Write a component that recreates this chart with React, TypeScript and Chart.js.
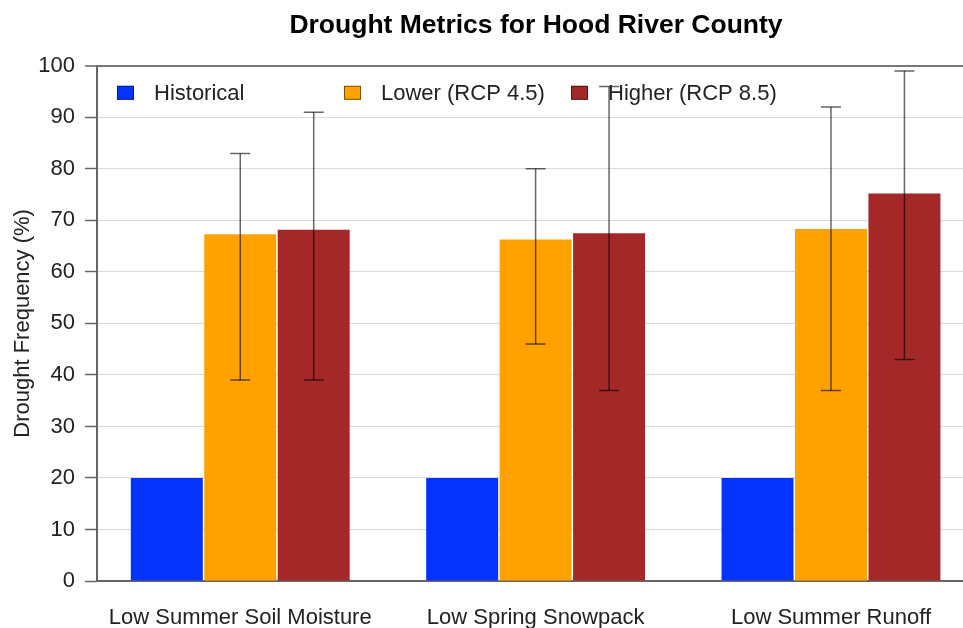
import React, { useEffect, useRef } from 'react';
import { Chart, registerables } from 'chart.js';

Chart.register(...registerables);

const FONT = "'Liberation Sans', Arial, Helvetica, sans-serif";

const chartTitle = 'Drought Metrics for Hood River County';
const yAxisTitle = 'Drought Frequency (%)';
const categories = ['Low Summer Soil Moisture', 'Low Spring Snowpack', 'Low Summer Runoff'];
const seriesLabels = ['Historical', 'Lower (RCP 4.5)', 'Higher (RCP 8.5)'];
const seriesColors = ['#0433ff', '#ffa200', '#a52828'];

const historical = [20, 20, 20];
const lower = [67.3, 66.3, 68.3];
const higher = [68.2, 67.5, 75.2];

const lowerErrLow = [39, 46, 37];
const lowerErrHigh = [83, 80, 92];
const higherErrLow = [39, 37, 43];
const higherErrHigh = [91, 96, 99];

const yMin = 0;
const yMax = 100;
const yStep = 10;

export default function App() {
  const ref = useRef<HTMLCanvasElement>(null);

  useEffect(() => {
    const canvas = ref.current;
    if (!canvas) return;

    const errorBars = {
      id: 'errorBars',
      afterDatasetsDraw(chart: any) {
        const { ctx } = chart;
        const y = chart.scales.y;
        chart.data.datasets.forEach((ds: any, di: number) => {
          if (!ds.errLow) return;
          const meta = chart.getDatasetMeta(di);
          meta.data.forEach((el: any, i: number) => {
            const x = el.x;
            const yl = y.getPixelForValue(ds.errLow[i]);
            const yh = y.getPixelForValue(ds.errHigh[i]);
            ctx.save();
            ctx.strokeStyle = 'rgba(0,0,0,0.6)';
            ctx.lineWidth = 1.5;
            ctx.beginPath();
            ctx.moveTo(x, yl);
            ctx.lineTo(x, yh);
            ctx.stroke();
            ctx.beginPath();
            ctx.moveTo(x - 10, yl);
            ctx.lineTo(x + 10, yl);
            ctx.moveTo(x - 10, yh);
            ctx.lineTo(x + 10, yh);
            ctx.stroke();
            ctx.restore();
          });
        });
      },
    };

    const insideLegend = {
      id: 'insideLegend',
      afterDraw(chart: any) {
        const { ctx, chartArea } = chart;
        const yc = chartArea.top + 27;
        chart.data.datasets.forEach((ds: any, i: number) => {
          const bx = chartArea.left + 20 + i * 227;
          ctx.save();
          ctx.fillStyle = ds.backgroundColor;
          ctx.fillRect(bx, yc - 7, 17, 14);
          ctx.strokeStyle = 'rgba(0,0,0,0.5)';
          ctx.lineWidth = 1;
          ctx.strokeRect(bx + 0.5, yc - 6.5, 16, 13);
          ctx.fillStyle = '#222';
          ctx.font = `22px ${FONT}`;
          ctx.textBaseline = 'middle';
          ctx.textAlign = 'left';
          ctx.fillText(ds.label, bx + 37, yc + 1);
          ctx.restore();
        });
      },
    };

    const mk = (vals: number[]) => vals.map((v, i) => ({ x: i, y: v }));

    const chart = new Chart(canvas, {
      type: 'bar',
      data: {
        datasets: [
          {
            label: seriesLabels[0],
            data: mk(historical),
            backgroundColor: seriesColors[0],
            categoryPercentage: 0.746,
            barPercentage: 0.98,
          } as any,
          {
            label: seriesLabels[1],
            data: mk(lower),
            backgroundColor: seriesColors[1],
            categoryPercentage: 0.746,
            barPercentage: 0.98,
            errLow: lowerErrLow,
            errHigh: lowerErrHigh,
          } as any,
          {
            label: seriesLabels[2],
            data: mk(higher),
            backgroundColor: seriesColors[2],
            categoryPercentage: 0.746,
            barPercentage: 0.98,
            errLow: higherErrLow,
            errHigh: higherErrHigh,
          } as any,
        ],
      },
      options: {
        responsive: false,
        maintainAspectRatio: false,
        animation: false,
        layout: { padding: { left: 0, right: 0, top: 0, bottom: 0 } },
        plugins: {
          legend: { display: false },
          tooltip: { enabled: false },
          title: {
            display: true,
            text: chartTitle,
            color: '#000',
            font: { family: FONT, size: 26.5, weight: 'bold' },
            padding: { top: 10, bottom: 24 },
          },
        },
        scales: {
          x: {
            type: 'linear',
            offset: false,
            min: -0.485,
            max: 2.816,
            afterBuildTicks: (axis: any) => {
              axis.ticks = categories.map((_, i) => ({ value: i }));
            },
            afterFit: (axis: any) => {
              axis.height = 47;
            },
            ticks: {
              callback: (v: any) => categories[v as number] ?? '',
              font: { family: FONT, size: 22 },
              color: '#222',
              padding: 24,
              maxRotation: 0,
              autoSkip: false,
            },
            grid: { color: 'rgba(0,0,0,0)', drawTicks: false, offset: false },
            border: { display: true, color: '#666', width: 2 },
          },
          y: {
            min: yMin,
            max: yMax,
            z: 1,
            afterFit: (axis: any) => {
              axis.width = 97;
            },
            ticks: {
              stepSize: yStep,
              font: { family: FONT, size: 22 },
              color: '#222',
              padding: 10,
            },
            grid: {
              color: (c: any) => (c.tick && c.tick.value === yMax ? '#777' : 'rgba(205,205,205,0.75)'),
              lineWidth: (c: any) => (c.tick && c.tick.value === yMax ? 2 : 1),
              tickLength: 12,
              tickColor: '#666',
              tickWidth: 1.5,
            },
            border: { display: true, color: '#666', width: 2 },
            title: {
              display: true,
              text: yAxisTitle,
              color: '#222',
              font: { family: FONT, size: 22 },
              padding: { top: 10, bottom: 0 },
            },
          },
        },
      } as any,
      plugins: [errorBars, insideLegend],
    });

    return () => chart.destroy();
  }, []);

  return (
    <div
      style={{
        position: 'fixed',
        left: 0,
        top: 0,
        width: 963,
        height: 628,
        overflow: 'hidden',
        background: '#fff',
      }}
    >
      <canvas ref={ref} width={1072} height={628} style={{ width: 1072, height: 628, display: 'block' }} />
    </div>
  );
}
